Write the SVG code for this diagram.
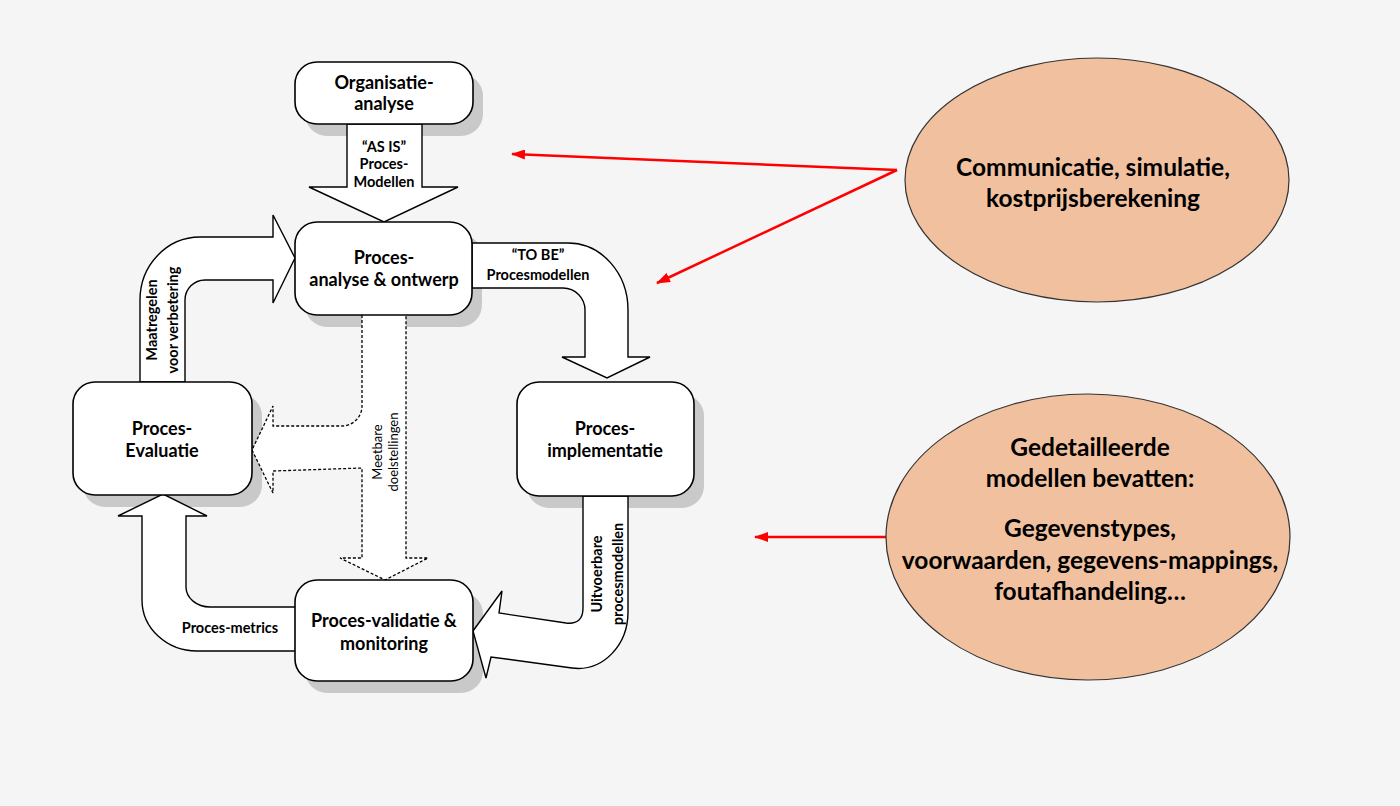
<svg xmlns="http://www.w3.org/2000/svg" width="1400" height="806" viewBox="0 0 1400 806">
<defs>
<style>
.bg{fill:#f5f5f5}
.box{fill:#ffffff;stroke:#000;stroke-width:1.6}
.shadow{fill:#c9c9c9}
.arrow{fill:#ffffff;stroke:#000;stroke-width:1.4;stroke-linejoin:miter}
.dashed{fill:#ffffff;stroke:#000;stroke-width:1.3;stroke-dasharray:3 2}
.lbl{font-family:Lato,"Liberation Sans",sans-serif;font-weight:bold;font-size:18px;text-anchor:middle;fill:#000}
.sm{font-family:Lato,"Liberation Sans",sans-serif;font-weight:bold;font-size:14.5px;text-anchor:middle;fill:#000}
.smn{font-family:Lato,"Liberation Sans",sans-serif;font-weight:normal;font-size:13px;text-anchor:middle;fill:#000}
.big{font-family:Lato,"Liberation Sans",sans-serif;font-weight:bold;font-size:24.5px;text-anchor:middle;fill:#000}
.ell{fill:#f1c19f;stroke:#333;stroke-width:1.2}
.red{stroke:#ff0000;stroke-width:2.5;fill:none}
</style>
<marker id="ah" markerWidth="14" markerHeight="10" refX="13" refY="5" orient="auto" markerUnits="userSpaceOnUse">
<path d="M0,0 L14,5 L0,10 Z" fill="#ff0000"/>
</marker>
</defs>
<rect class="bg" x="0" y="0" width="1400" height="806"/>

<g id="shadows">
<rect class="shadow" x="305" y="74" width="178" height="62" rx="22"/>
<rect class="shadow" x="305" y="234" width="177" height="93" rx="22"/>
<rect class="shadow" x="83" y="394" width="179" height="113" rx="22"/>
<rect class="shadow" x="527" y="394" width="177" height="114" rx="22"/>
<rect class="shadow" x="305" y="592" width="178" height="101" rx="22"/>
</g>

<g id="connectors">
<path id="as-is" class="arrow" d="M347 124 L347 187 L309 187 L384 222 L458 187 L422 187 L422 124 Z"/>
<path id="to-be" class="arrow" d="M472 243 L568 243 A60 67 0 0 1 628 310 L628 357 L650 357 L607 378 L562 357 L585 357 L585 310 A22 22 0 0 0 563 288 L472 288 Z"/>
<path id="uitvoerbare" class="arrow" d="M583 496 L583 608 Q583 625 566 623 L499 613 L502 591 L473 631 L486 678 L491 657 L572 668 C603 672 628 645 628 612 L628 496 Z"/>
<path id="metrics" class="arrow" d="M296 607 L210 607 A24 20 0 0 1 186 587 L186 516 L207 516 L163 494 L118 516 L142 516 L142 600 A55 51 0 0 0 197 651 L296 651 Z"/>
<path id="maatregelen" class="arrow" d="M140 382 L140 300 A60 63 0 0 1 200 237 L273 237 L273 215 L295 258 L273 303 L273 280 L205 280 A20 20 0 0 0 185 300 L185 382 Z"/>
<path id="meetbare" class="dashed" d="M362 315 L362 406 A20 20 0 0 1 342 426 L273 426 L273 406 L252 450 L273 493 L273 471 L362 468 L362 558 L340 558 L385 580 L428 558 L406 558 L406 315"/>
<line class="red" x1="897" y1="170" x2="512" y2="154" marker-end="url(#ah)"/>
<line class="red" x1="897" y1="170" x2="657" y2="283" marker-end="url(#ah)"/>
<line class="red" x1="886" y1="537" x2="755" y2="537" stroke-width="3" marker-end="url(#ah)"/>
<text class="sm" x="384" y="152">“AS IS”</text>
<text class="sm" x="384" y="169">Proces-</text>
<text class="sm" x="384" y="187">Modellen</text>
<text class="sm" x="538" y="260">“TO BE”</text>
<text class="sm" x="538" y="280">Procesmodellen</text>
<text class="sm" x="230" y="633">Proces-metrics</text>
<g transform="translate(163,320) rotate(-90)">
<text class="sm" x="0" y="-6">Maatregelen</text>
<text class="sm" x="0" y="15">voor verbetering</text>
</g>
<g transform="translate(606,574) rotate(-90)">
<text class="sm" x="0" y="-4">Uitvoerbare</text>
<text class="sm" x="0" y="17">procesmodellen</text>
</g>
<g transform="translate(385,452) rotate(-90)">
<text class="smn" x="0" y="-3">Meetbare</text>
<text class="smn" x="0" y="13">doelstellingen</text>
</g>
</g>

<g id="organisatie-analyse">
<rect class="box" x="295" y="62" width="178" height="62" rx="22"/>
<text class="lbl" x="384" y="88.5">Organisatie-</text>
<text class="lbl" x="384" y="109.5">analyse</text>
</g>
<g id="proces-analyse">
<rect class="box" x="295" y="222" width="177" height="93" rx="22"/>
<text class="lbl" x="384" y="263.5">Proces-</text>
<text class="lbl" x="384" y="285.5">analyse &amp; ontwerp</text>
</g>
<g id="proces-evaluatie">
<rect class="box" x="73" y="382" width="179" height="113" rx="22"/>
<text class="lbl" x="162" y="434.5">Proces-</text>
<text class="lbl" x="162" y="456.5">Evaluatie</text>
</g>
<g id="proces-implementatie">
<rect class="box" x="517" y="382" width="177" height="114" rx="22"/>
<text class="lbl" x="605" y="434.5">Proces-</text>
<text class="lbl" x="605" y="456.5">implementatie</text>
</g>
<g id="proces-validatie">
<rect class="box" x="295" y="580" width="178" height="101" rx="22"/>
<text class="lbl" x="384" y="626.5">Proces-validatie &amp;</text>
<text class="lbl" x="384" y="649.5">monitoring</text>
</g>

<g id="ellipse-communicatie">
<ellipse class="ell" cx="1097" cy="180" rx="192" ry="122"/>
<text class="big" x="1093" y="176">Communicatie, simulatie,</text>
<text class="big" x="1093" y="207">kostprijsberekening</text>
</g>
<g id="ellipse-modellen">
<ellipse class="ell" cx="1088" cy="537" rx="202" ry="143"/>
<text class="big" x="1090" y="456">Gedetailleerde</text>
<text class="big" x="1090" y="487">modellen bevatten:</text>
<text class="big" x="1090" y="537">Gegevenstypes,</text>
<text class="big" x="1090" y="569">voorwaarden, gegevens-mappings,</text>
<text class="big" x="1090" y="600">foutafhandeling…</text>
</g>
</svg>
